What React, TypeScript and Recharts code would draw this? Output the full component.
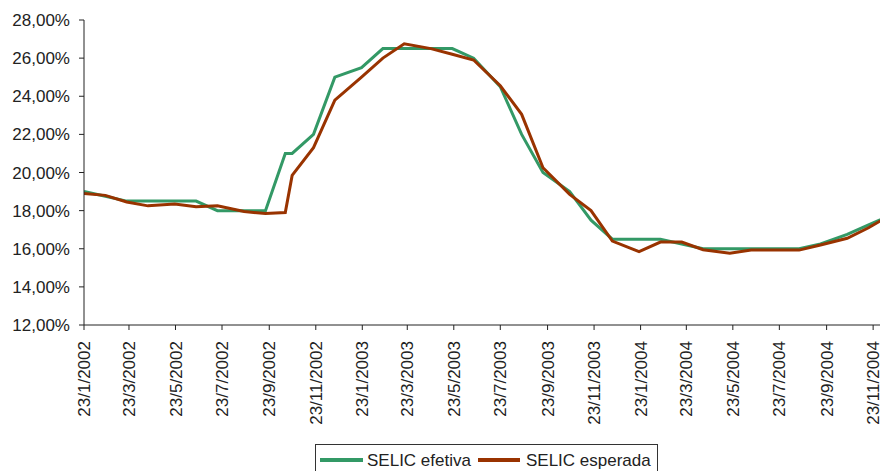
import React from 'react';
import { LineChart, Line, XAxis, YAxis } from 'recharts';

// Copom meeting dates, Jan 2002 - Dec 2004
const dates = [
  '2002-01-23', '2002-02-20', '2002-03-20', '2002-04-17', '2002-05-22', '2002-06-19', '2002-07-17',
  '2002-08-21', '2002-09-18', '2002-10-14', '2002-10-23', '2002-11-20', '2002-12-18',
  '2003-01-22', '2003-02-19', '2003-03-19', '2003-04-23', '2003-05-21', '2003-06-18',
  '2003-07-23', '2003-08-20', '2003-09-17', '2003-10-22', '2003-11-19', '2003-12-17',
  '2004-01-21', '2004-02-18', '2004-03-17', '2004-04-14', '2004-05-19', '2004-06-16',
  '2004-07-21', '2004-08-18', '2004-09-15', '2004-10-20', '2004-11-17', '2004-12-15',
];

const selicEfetiva = [
  19.0, 18.75, 18.5, 18.5, 18.5, 18.5, 18.0, 18.0, 18.0, 21.0, 21.0, 22.0, 25.0,
  25.5, 26.5, 26.5, 26.5, 26.5, 26.0, 24.5, 22.0, 20.0, 19.0, 17.5, 16.5,
  16.5, 16.5, 16.25, 16.0, 16.0, 16.0, 16.0, 16.0, 16.25, 16.75, 17.25, 17.75,
];

const selicEsperada = [
  18.9, 18.8, 18.45, 18.25, 18.35, 18.2, 18.25, 17.95, 17.85, 17.9, 19.85, 21.3, 23.8,
  25.0, 26.0, 26.75, 26.5, 26.2, 25.9, 24.55, 23.05, 20.25, 18.85, 18.0, 16.4,
  15.85, 16.35, 16.35, 15.95, 15.77, 15.93, 15.93, 15.93, 16.2, 16.55, 17.1, 17.75,
];

const xTickLabels = [
  '23/1/2002', '23/3/2002', '23/5/2002', '23/7/2002', '23/9/2002', '23/11/2002',
  '23/1/2003', '23/3/2003', '23/5/2003', '23/7/2003', '23/9/2003', '23/11/2003',
  '23/1/2004', '23/3/2004', '23/5/2004', '23/7/2004', '23/9/2004', '23/11/2004',
];

const yTicks = [12, 14, 16, 18, 20, 22, 24, 26, 28];

const FONT = '"Liberation Sans", Arial, sans-serif';
const GREEN = '#339966';
const RED = '#993300';

const toTime = (iso: string) => {
  const [y, m, d] = iso.split('-').map(Number);
  return Date.UTC(y, m - 1, d);
};
const labelToTime = (s: string) => {
  const [d, m, y] = s.split('/').map(Number);
  return Date.UTC(y, m - 1, d);
};

const data = dates.map((d, i) => ({
  t: toTime(d),
  efetiva: selicEfetiva[i],
  esperada: selicEsperada[i],
}));

const xTicks = xTickLabels.map(labelToTime);
const tickLabelMap: Record<number, string> = {};
xTicks.forEach((t, i) => (tickLabelMap[t] = xTickLabels[i]));

const xDomain = [toTime('2002-01-23'), toTime('2004-12-23')];

const DateTick = ({ x, y, payload }: any) => (
  <text
    x={0}
    y={0}
    dy="0.36em"
    textAnchor="end"
    fontSize={17}
    fontFamily={FONT}
    fill="#222"
    transform={`translate(${x},${y + 9}) rotate(-90)`}
  >
    {tickLabelMap[payload.value]}
  </text>
);

export default function App() {
  return (
    <div style={{ position: 'absolute', left: 0, top: 0, width: 880, height: 471, overflow: 'hidden', background: '#fff' }}>
      <LineChart
        width={910}
        height={471}
        data={data}
        margin={{ top: 20, right: 14, left: 0, bottom: 46 }}
      >
        <XAxis
          dataKey="t"
          type="number"
          domain={xDomain}
          ticks={xTicks}
          interval={0}
          height={100}
          tick={<DateTick />}
          tickSize={5}
          stroke="#222"
          allowDataOverflow
        />
        <YAxis
          domain={[12, 28]}
          ticks={yTicks}
          width={84}
          tickSize={5}
          tickMargin={9}
          stroke="#222"
          tick={{ fill: '#222', fontSize: 17, fontFamily: FONT }}
          tickFormatter={(v: number) => `${v.toFixed(2).replace('.', ',')}%`}
        />
        <Line
          type="linear"
          dataKey="efetiva"
          name="SELIC efetiva"
          stroke={GREEN}
          strokeWidth={3}
          dot={false}
          isAnimationActive={false}
        />
        <Line
          type="linear"
          dataKey="esperada"
          name="SELIC esperada"
          stroke={RED}
          strokeWidth={3}
          dot={false}
          isAnimationActive={false}
        />
      </LineChart>

      <div
        style={{
          position: 'absolute',
          left: 315,
          top: 444,
          width: 343,
          height: 34,
          border: '1px solid #333',
          display: 'flex',
          alignItems: 'center',
          fontFamily: FONT,
          fontSize: 17,
          color: '#222',
          paddingLeft: 4,
          boxSizing: 'border-box',
        }}
      >
        <div style={{ width: 43, height: 4, background: GREEN, marginRight: 4, marginTop: -2 }} />
        <span>SELIC efetiva</span>
        <div style={{ width: 42, height: 4, background: RED, marginLeft: 7, marginRight: 6, marginTop: -2 }} />
        <span>SELIC esperada</span>
      </div>
    </div>
  );
}
